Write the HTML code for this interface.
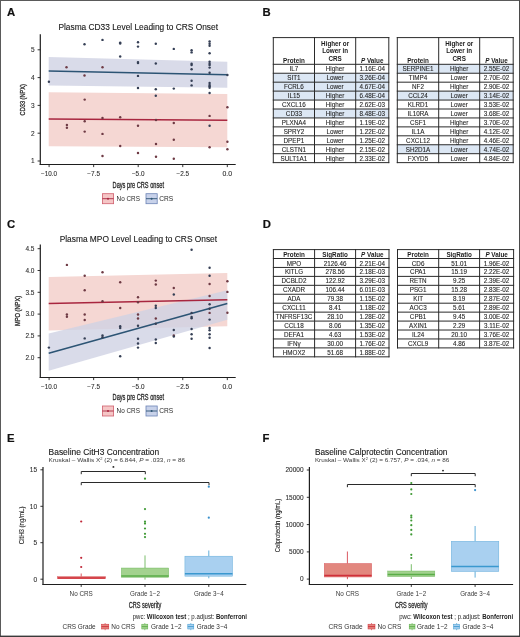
<!DOCTYPE html>
<html><head><meta charset="utf-8"><title>Figure</title><style>
html,body{margin:0;padding:0;background:#fff;}
body{width:520px;height:637px;position:relative;overflow:hidden;font-family:"Liberation Sans", sans-serif;}
.tb{position:absolute;}
.tb div{position:absolute;box-sizing:border-box;}
.hr{left:0;top:0;width:100%;}
.hc{display:flex;justify-content:center;font-weight:bold;font-size:6.3px;line-height:7.4px;text-align:center;color:#1a1a1a;padding-bottom:0.6px}
.hc span{position:relative !important;}
.rw{left:0;width:100%;}
.cl{text-align:center;font-size:6.3px;color:#333;white-space:nowrap;}
.vl{width:1px;background:#2a2a2a;}
.hl{height:1px;background:#2a2a2a;}
</style></head>
<body>
<svg width="520" height="637" viewBox="0 0 520 637" style="position:absolute;left:0;top:0;font-family:"Liberation Sans", sans-serif;will-change:transform">
<rect x="0" y="0" width="520" height="637" fill="#fff"/>







<polygon points="48.7,92.3 227.3,94 227.3,147.3 48.7,146.2" fill="#f5d7d3" fill-opacity="1"/>
<polygon points="48.7,56.9 227.3,61.8 227.3,87.7 48.7,85.4" fill="#cfd2e3" fill-opacity="0.8"/>
<line x1="48.7" y1="118.9" x2="227.3" y2="120.3" stroke="#a8263f" stroke-width="1.5" />
<line x1="48.7" y1="70.9" x2="227.3" y2="74.8" stroke="#2c5474" stroke-width="1.5" />
<circle cx="66.9" cy="124.9" r="1.22" fill="#6e3a44"/>
<circle cx="66.9" cy="127.7" r="1.22" fill="#6e3a44"/>
<circle cx="84.7" cy="99.6" r="1.22" fill="#6e3a44"/>
<circle cx="84.7" cy="121.2" r="1.22" fill="#6e3a44"/>
<circle cx="84.7" cy="131.6" r="1.22" fill="#6e3a44"/>
<circle cx="102.5" cy="118" r="1.22" fill="#6e3a44"/>
<circle cx="102.5" cy="133.9" r="1.22" fill="#6e3a44"/>
<circle cx="102.5" cy="156" r="1.22" fill="#6e3a44"/>
<circle cx="120.2" cy="117.3" r="1.22" fill="#6e3a44"/>
<circle cx="120.2" cy="146" r="1.22" fill="#6e3a44"/>
<circle cx="138" cy="125.8" r="1.22" fill="#6e3a44"/>
<circle cx="138" cy="153" r="1.22" fill="#6e3a44"/>
<circle cx="156" cy="120" r="1.22" fill="#6e3a44"/>
<circle cx="156" cy="144" r="1.22" fill="#6e3a44"/>
<circle cx="156" cy="156.8" r="1.22" fill="#6e3a44"/>
<circle cx="173.8" cy="123" r="1.22" fill="#6e3a44"/>
<circle cx="173.8" cy="139.7" r="1.22" fill="#6e3a44"/>
<circle cx="173.8" cy="158.8" r="1.22" fill="#6e3a44"/>
<circle cx="209.6" cy="115.9" r="1.22" fill="#6e3a44"/>
<circle cx="209.6" cy="147.3" r="1.22" fill="#6e3a44"/>
<circle cx="227.4" cy="107.2" r="1.22" fill="#6e3a44"/>
<circle cx="227.4" cy="141.8" r="1.22" fill="#6e3a44"/>
<circle cx="227.4" cy="149.2" r="1.22" fill="#6e3a44"/>
<circle cx="66.5" cy="67.2" r="1.22" fill="#6e3a44"/>
<circle cx="84.5" cy="75.5" r="1.22" fill="#6e3a44"/>
<circle cx="102.5" cy="67.2" r="1.22" fill="#6e3a44"/>
<circle cx="48.9" cy="81.7" r="1.22" fill="#353f55"/>
<circle cx="84.5" cy="44.3" r="1.22" fill="#353f55"/>
<circle cx="102.5" cy="39.9" r="1.22" fill="#353f55"/>
<circle cx="120.2" cy="42.6" r="1.22" fill="#353f55"/>
<circle cx="120.2" cy="43.6" r="1.22" fill="#353f55"/>
<circle cx="120.2" cy="56.5" r="1.22" fill="#353f55"/>
<circle cx="138" cy="42.2" r="1.22" fill="#353f55"/>
<circle cx="138" cy="46.6" r="1.22" fill="#353f55"/>
<circle cx="138" cy="62.1" r="1.22" fill="#353f55"/>
<circle cx="138" cy="63" r="1.22" fill="#353f55"/>
<circle cx="138" cy="75.9" r="1.22" fill="#353f55"/>
<circle cx="138" cy="88" r="1.22" fill="#353f55"/>
<circle cx="155.8" cy="43.8" r="1.22" fill="#353f55"/>
<circle cx="155.8" cy="63.5" r="1.22" fill="#353f55"/>
<circle cx="155.8" cy="89.3" r="1.22" fill="#353f55"/>
<circle cx="155.8" cy="95.8" r="1.22" fill="#353f55"/>
<circle cx="173.8" cy="48.9" r="1.22" fill="#353f55"/>
<circle cx="173.8" cy="88.6" r="1.22" fill="#353f55"/>
<circle cx="191.6" cy="50.3" r="1.22" fill="#353f55"/>
<circle cx="191.6" cy="52.4" r="1.22" fill="#353f55"/>
<circle cx="191.6" cy="63.7" r="1.22" fill="#353f55"/>
<circle cx="191.6" cy="65" r="1.22" fill="#353f55"/>
<circle cx="191.6" cy="69.2" r="1.22" fill="#353f55"/>
<circle cx="191.6" cy="80.8" r="1.22" fill="#353f55"/>
<circle cx="191.6" cy="85.4" r="1.22" fill="#353f55"/>
<circle cx="209.6" cy="41.5" r="1.22" fill="#353f55"/>
<circle cx="209.6" cy="43.8" r="1.22" fill="#353f55"/>
<circle cx="209.6" cy="45.7" r="1.22" fill="#353f55"/>
<circle cx="209.6" cy="53.3" r="1.22" fill="#353f55"/>
<circle cx="209.6" cy="61.8" r="1.22" fill="#353f55"/>
<circle cx="209.6" cy="63.7" r="1.22" fill="#353f55"/>
<circle cx="209.6" cy="65.1" r="1.22" fill="#353f55"/>
<circle cx="209.6" cy="67.6" r="1.22" fill="#353f55"/>
<circle cx="209.6" cy="72.7" r="1.22" fill="#353f55"/>
<circle cx="209.6" cy="83" r="1.22" fill="#353f55"/>
<circle cx="209.6" cy="84.9" r="1.22" fill="#353f55"/>
<circle cx="209.6" cy="86.3" r="1.22" fill="#353f55"/>
<circle cx="209.6" cy="87.7" r="1.22" fill="#353f55"/>
<circle cx="209.6" cy="93" r="1.22" fill="#353f55"/>
<circle cx="209.6" cy="125.8" r="1.22" fill="#353f55"/>
<circle cx="227.4" cy="75" r="1.22" fill="#353f55"/>
<line x1="40.3" y1="34.2" x2="40.3" y2="165.0" stroke="#1e1e1e" stroke-width="1.2" />
<line x1="39.7" y1="164.5" x2="235.7" y2="164.5" stroke="#1e1e1e" stroke-width="1.1" />
<line x1="37.6" y1="49.8" x2="40.3" y2="49.8" stroke="#1e1e1e" stroke-width="0.9" />

<line x1="37.6" y1="77.6" x2="40.3" y2="77.6" stroke="#1e1e1e" stroke-width="0.9" />

<line x1="37.6" y1="105.4" x2="40.3" y2="105.4" stroke="#1e1e1e" stroke-width="0.9" />

<line x1="37.6" y1="133.2" x2="40.3" y2="133.2" stroke="#1e1e1e" stroke-width="0.9" />

<line x1="37.6" y1="161" x2="40.3" y2="161" stroke="#1e1e1e" stroke-width="0.9" />

<line x1="49.10000000000002" y1="164.5" x2="49.10000000000002" y2="167.1" stroke="#1e1e1e" stroke-width="0.9" />

<line x1="93.65" y1="164.5" x2="93.65" y2="167.1" stroke="#1e1e1e" stroke-width="0.9" />

<line x1="138.20000000000002" y1="164.5" x2="138.20000000000002" y2="167.1" stroke="#1e1e1e" stroke-width="0.9" />

<line x1="182.75" y1="164.5" x2="182.75" y2="167.1" stroke="#1e1e1e" stroke-width="0.9" />

<line x1="227.3" y1="164.5" x2="227.3" y2="167.1" stroke="#1e1e1e" stroke-width="0.9" />



<rect x="102.4" y="193.7" width="11.2" height="10" fill="#f5c6c6" stroke="#d0606e" stroke-width="0.8"/>
<line x1="102.4" y1="198.7" x2="113.6" y2="198.7" stroke="#a8263f" stroke-width="0.9" />
<circle cx="108" cy="198.7" r="1.0" fill="#a8263f"/>
<rect x="146" y="193.7" width="11.2" height="10" fill="#c8d2ea" stroke="#6d84b6" stroke-width="0.8"/>
<line x1="146" y1="198.7" x2="157.2" y2="198.7" stroke="#2c5474" stroke-width="0.9" />
<circle cx="151.6" cy="198.7" r="1.0" fill="#2c5474"/>



<polygon points="48.7,277 227.3,273 227.3,326.2 48.7,330.5" fill="#f5d7d3" fill-opacity="1"/>
<polygon points="48.7,333.5 227.3,290.2 227.3,319.8 48.7,370.8" fill="#cfd2e3" fill-opacity="0.8"/>
<line x1="48.7" y1="303.6" x2="227.3" y2="299.7" stroke="#a8263f" stroke-width="1.5" />
<line x1="48.7" y1="353.2" x2="227.3" y2="303.5" stroke="#2c5474" stroke-width="1.5" />
<circle cx="66.9" cy="264.9" r="1.22" fill="#6e3a44"/>
<circle cx="66.9" cy="314.5" r="1.22" fill="#6e3a44"/>
<circle cx="66.9" cy="316.8" r="1.22" fill="#6e3a44"/>
<circle cx="84.7" cy="275.8" r="1.22" fill="#6e3a44"/>
<circle cx="84.7" cy="290.3" r="1.22" fill="#6e3a44"/>
<circle cx="84.7" cy="314.5" r="1.22" fill="#6e3a44"/>
<circle cx="84.7" cy="320" r="1.22" fill="#6e3a44"/>
<circle cx="102.5" cy="272.3" r="1.22" fill="#6e3a44"/>
<circle cx="102.5" cy="301.2" r="1.22" fill="#6e3a44"/>
<circle cx="120.2" cy="282.2" r="1.22" fill="#6e3a44"/>
<circle cx="120.2" cy="308" r="1.22" fill="#6e3a44"/>
<circle cx="138" cy="297.2" r="1.22" fill="#6e3a44"/>
<circle cx="138" cy="302.3" r="1.22" fill="#6e3a44"/>
<circle cx="138" cy="314.5" r="1.22" fill="#6e3a44"/>
<circle cx="138" cy="318.5" r="1.22" fill="#6e3a44"/>
<circle cx="155.8" cy="280.6" r="1.22" fill="#6e3a44"/>
<circle cx="155.8" cy="284.5" r="1.22" fill="#6e3a44"/>
<circle cx="155.8" cy="318.5" r="1.22" fill="#6e3a44"/>
<circle cx="173.8" cy="288" r="1.22" fill="#6e3a44"/>
<circle cx="173.8" cy="335.5" r="1.22" fill="#6e3a44"/>
<circle cx="209.6" cy="284" r="1.22" fill="#6e3a44"/>
<circle cx="209.6" cy="296" r="1.22" fill="#6e3a44"/>
<circle cx="209.6" cy="312.9" r="1.22" fill="#6e3a44"/>
<circle cx="227.4" cy="281.2" r="1.22" fill="#6e3a44"/>
<circle cx="227.4" cy="291.9" r="1.22" fill="#6e3a44"/>
<circle cx="227.4" cy="312.7" r="1.22" fill="#6e3a44"/>
<circle cx="191.6" cy="249.7" r="1.22" fill="#353f55"/>
<circle cx="48.9" cy="347.6" r="1.22" fill="#353f55"/>
<circle cx="84.7" cy="338.4" r="1.22" fill="#353f55"/>
<circle cx="102.5" cy="335.4" r="1.22" fill="#353f55"/>
<circle cx="102.5" cy="337.2" r="1.22" fill="#353f55"/>
<circle cx="120.2" cy="326.2" r="1.22" fill="#353f55"/>
<circle cx="120.2" cy="328" r="1.22" fill="#353f55"/>
<circle cx="120.2" cy="356.2" r="1.22" fill="#353f55"/>
<circle cx="138" cy="325.7" r="1.22" fill="#353f55"/>
<circle cx="138" cy="338.8" r="1.22" fill="#353f55"/>
<circle cx="138" cy="343.5" r="1.22" fill="#353f55"/>
<circle cx="138" cy="347.6" r="1.22" fill="#353f55"/>
<circle cx="155.8" cy="305.8" r="1.22" fill="#353f55"/>
<circle cx="155.8" cy="308" r="1.22" fill="#353f55"/>
<circle cx="155.8" cy="323.8" r="1.22" fill="#353f55"/>
<circle cx="155.8" cy="339.5" r="1.22" fill="#353f55"/>
<circle cx="155.8" cy="343" r="1.22" fill="#353f55"/>
<circle cx="173.8" cy="294.5" r="1.22" fill="#353f55"/>
<circle cx="173.8" cy="330" r="1.22" fill="#353f55"/>
<circle cx="173.8" cy="336.5" r="1.22" fill="#353f55"/>
<circle cx="191.6" cy="312.9" r="1.22" fill="#353f55"/>
<circle cx="191.6" cy="316.9" r="1.22" fill="#353f55"/>
<circle cx="191.6" cy="318.2" r="1.22" fill="#353f55"/>
<circle cx="191.6" cy="329" r="1.22" fill="#353f55"/>
<circle cx="191.6" cy="334.2" r="1.22" fill="#353f55"/>
<circle cx="191.6" cy="338.8" r="1.22" fill="#353f55"/>
<circle cx="209.6" cy="267.7" r="1.22" fill="#353f55"/>
<circle cx="209.6" cy="275.8" r="1.22" fill="#353f55"/>
<circle cx="209.6" cy="304.2" r="1.22" fill="#353f55"/>
<circle cx="209.6" cy="308.8" r="1.22" fill="#353f55"/>
<circle cx="209.6" cy="319.6" r="1.22" fill="#353f55"/>
<circle cx="209.6" cy="327.9" r="1.22" fill="#353f55"/>
<circle cx="209.6" cy="330.2" r="1.22" fill="#353f55"/>
<circle cx="209.6" cy="334.2" r="1.22" fill="#353f55"/>
<circle cx="209.6" cy="337.7" r="1.22" fill="#353f55"/>
<circle cx="209.6" cy="348" r="1.22" fill="#353f55"/>
<line x1="40.3" y1="244.5" x2="40.3" y2="378.0" stroke="#1e1e1e" stroke-width="1.2" />
<line x1="39.7" y1="377.5" x2="235.7" y2="377.5" stroke="#1e1e1e" stroke-width="1.1" />
<line x1="37.6" y1="248.7" x2="40.3" y2="248.7" stroke="#1e1e1e" stroke-width="0.9" />

<line x1="37.6" y1="270.5" x2="40.3" y2="270.5" stroke="#1e1e1e" stroke-width="0.9" />

<line x1="37.6" y1="292.3" x2="40.3" y2="292.3" stroke="#1e1e1e" stroke-width="0.9" />

<line x1="37.6" y1="314.1" x2="40.3" y2="314.1" stroke="#1e1e1e" stroke-width="0.9" />

<line x1="37.6" y1="335.9" x2="40.3" y2="335.9" stroke="#1e1e1e" stroke-width="0.9" />

<line x1="37.6" y1="357.7" x2="40.3" y2="357.7" stroke="#1e1e1e" stroke-width="0.9" />

<line x1="49.10000000000002" y1="377.5" x2="49.10000000000002" y2="380.1" stroke="#1e1e1e" stroke-width="0.9" />

<line x1="93.65" y1="377.5" x2="93.65" y2="380.1" stroke="#1e1e1e" stroke-width="0.9" />

<line x1="138.20000000000002" y1="377.5" x2="138.20000000000002" y2="380.1" stroke="#1e1e1e" stroke-width="0.9" />

<line x1="182.75" y1="377.5" x2="182.75" y2="380.1" stroke="#1e1e1e" stroke-width="0.9" />

<line x1="227.3" y1="377.5" x2="227.3" y2="380.1" stroke="#1e1e1e" stroke-width="0.9" />



<rect x="102.4" y="406.0" width="11.2" height="10" fill="#f5c6c6" stroke="#d0606e" stroke-width="0.8"/>
<line x1="102.4" y1="411.0" x2="113.6" y2="411.0" stroke="#a8263f" stroke-width="0.9" />
<circle cx="108" cy="411.0" r="1.0" fill="#a8263f"/>
<rect x="146" y="406.0" width="11.2" height="10" fill="#c8d2ea" stroke="#6d84b6" stroke-width="0.8"/>
<line x1="146" y1="411.0" x2="157.2" y2="411.0" stroke="#2c5474" stroke-width="0.9" />
<circle cx="151.6" cy="411.0" r="1.0" fill="#2c5474"/>


<rect x="273.3" y="73.24" width="115.5" height="8.94" fill="#dce7f4"/>
<rect x="273.3" y="82.17999999999999" width="115.5" height="8.94" fill="#dce7f4"/>
<rect x="273.3" y="91.12" width="115.5" height="8.94" fill="#dce7f4"/>
<rect x="273.3" y="109.0" width="115.5" height="8.94" fill="#dce7f4"/>






































<line x1="273.3" y1="37.1" x2="273.3" y2="163.14" stroke="#2a2a2a" stroke-width="1"/>
<line x1="314.5" y1="37.1" x2="314.5" y2="163.14" stroke="#2a2a2a" stroke-width="1"/>
<line x1="355.7" y1="37.1" x2="355.7" y2="163.14" stroke="#2a2a2a" stroke-width="1"/>
<line x1="388.8" y1="37.1" x2="388.8" y2="163.14" stroke="#2a2a2a" stroke-width="1"/>
<line x1="272.8" y1="37.60" x2="389.3" y2="37.60" stroke="#2a2a2a" stroke-width="1"/>
<line x1="272.8" y1="64.30" x2="389.3" y2="64.30" stroke="#2a2a2a" stroke-width="1"/>
<line x1="272.8" y1="73.24" x2="389.3" y2="73.24" stroke="#2a2a2a" stroke-width="1"/>
<line x1="272.8" y1="82.18" x2="389.3" y2="82.18" stroke="#2a2a2a" stroke-width="1"/>
<line x1="272.8" y1="91.12" x2="389.3" y2="91.12" stroke="#2a2a2a" stroke-width="1"/>
<line x1="272.8" y1="100.06" x2="389.3" y2="100.06" stroke="#2a2a2a" stroke-width="1"/>
<line x1="272.8" y1="109.00" x2="389.3" y2="109.00" stroke="#2a2a2a" stroke-width="1"/>
<line x1="272.8" y1="117.94" x2="389.3" y2="117.94" stroke="#2a2a2a" stroke-width="1"/>
<line x1="272.8" y1="126.88" x2="389.3" y2="126.88" stroke="#2a2a2a" stroke-width="1"/>
<line x1="272.8" y1="135.82" x2="389.3" y2="135.82" stroke="#2a2a2a" stroke-width="1"/>
<line x1="272.8" y1="144.76" x2="389.3" y2="144.76" stroke="#2a2a2a" stroke-width="1"/>
<line x1="272.8" y1="153.70" x2="389.3" y2="153.70" stroke="#2a2a2a" stroke-width="1"/>
<line x1="272.8" y1="162.64" x2="389.3" y2="162.64" stroke="#2a2a2a" stroke-width="1"/>
<rect x="397.3" y="64.3" width="115.90000000000003" height="8.94" fill="#dce7f4"/>
<rect x="397.3" y="91.12" width="115.90000000000003" height="8.94" fill="#dce7f4"/>
<rect x="397.3" y="144.76" width="115.90000000000003" height="8.94" fill="#dce7f4"/>






































<line x1="397.3" y1="37.1" x2="397.3" y2="163.14" stroke="#2a2a2a" stroke-width="1"/>
<line x1="438.7" y1="37.1" x2="438.7" y2="163.14" stroke="#2a2a2a" stroke-width="1"/>
<line x1="479.7" y1="37.1" x2="479.7" y2="163.14" stroke="#2a2a2a" stroke-width="1"/>
<line x1="513.2" y1="37.1" x2="513.2" y2="163.14" stroke="#2a2a2a" stroke-width="1"/>
<line x1="396.8" y1="37.60" x2="513.7" y2="37.60" stroke="#2a2a2a" stroke-width="1"/>
<line x1="396.8" y1="64.30" x2="513.7" y2="64.30" stroke="#2a2a2a" stroke-width="1"/>
<line x1="396.8" y1="73.24" x2="513.7" y2="73.24" stroke="#2a2a2a" stroke-width="1"/>
<line x1="396.8" y1="82.18" x2="513.7" y2="82.18" stroke="#2a2a2a" stroke-width="1"/>
<line x1="396.8" y1="91.12" x2="513.7" y2="91.12" stroke="#2a2a2a" stroke-width="1"/>
<line x1="396.8" y1="100.06" x2="513.7" y2="100.06" stroke="#2a2a2a" stroke-width="1"/>
<line x1="396.8" y1="109.00" x2="513.7" y2="109.00" stroke="#2a2a2a" stroke-width="1"/>
<line x1="396.8" y1="117.94" x2="513.7" y2="117.94" stroke="#2a2a2a" stroke-width="1"/>
<line x1="396.8" y1="126.88" x2="513.7" y2="126.88" stroke="#2a2a2a" stroke-width="1"/>
<line x1="396.8" y1="135.82" x2="513.7" y2="135.82" stroke="#2a2a2a" stroke-width="1"/>
<line x1="396.8" y1="144.76" x2="513.7" y2="144.76" stroke="#2a2a2a" stroke-width="1"/>
<line x1="396.8" y1="153.70" x2="513.7" y2="153.70" stroke="#2a2a2a" stroke-width="1"/>
<line x1="396.8" y1="162.64" x2="513.7" y2="162.64" stroke="#2a2a2a" stroke-width="1"/>




































<line x1="273.4" y1="249.1" x2="273.4" y2="357.34" stroke="#2a2a2a" stroke-width="1"/>
<line x1="314.6" y1="249.1" x2="314.6" y2="357.34" stroke="#2a2a2a" stroke-width="1"/>
<line x1="355.6" y1="249.1" x2="355.6" y2="357.34" stroke="#2a2a2a" stroke-width="1"/>
<line x1="389.0" y1="249.1" x2="389.0" y2="357.34" stroke="#2a2a2a" stroke-width="1"/>
<line x1="272.9" y1="249.60" x2="389.5" y2="249.60" stroke="#2a2a2a" stroke-width="1"/>
<line x1="272.9" y1="258.50" x2="389.5" y2="258.50" stroke="#2a2a2a" stroke-width="1"/>
<line x1="272.9" y1="267.44" x2="389.5" y2="267.44" stroke="#2a2a2a" stroke-width="1"/>
<line x1="272.9" y1="276.38" x2="389.5" y2="276.38" stroke="#2a2a2a" stroke-width="1"/>
<line x1="272.9" y1="285.32" x2="389.5" y2="285.32" stroke="#2a2a2a" stroke-width="1"/>
<line x1="272.9" y1="294.26" x2="389.5" y2="294.26" stroke="#2a2a2a" stroke-width="1"/>
<line x1="272.9" y1="303.20" x2="389.5" y2="303.20" stroke="#2a2a2a" stroke-width="1"/>
<line x1="272.9" y1="312.14" x2="389.5" y2="312.14" stroke="#2a2a2a" stroke-width="1"/>
<line x1="272.9" y1="321.08" x2="389.5" y2="321.08" stroke="#2a2a2a" stroke-width="1"/>
<line x1="272.9" y1="330.02" x2="389.5" y2="330.02" stroke="#2a2a2a" stroke-width="1"/>
<line x1="272.9" y1="338.96" x2="389.5" y2="338.96" stroke="#2a2a2a" stroke-width="1"/>
<line x1="272.9" y1="347.90" x2="389.5" y2="347.90" stroke="#2a2a2a" stroke-width="1"/>
<line x1="272.9" y1="356.84" x2="389.5" y2="356.84" stroke="#2a2a2a" stroke-width="1"/>

































<line x1="397.5" y1="249.1" x2="397.5" y2="348.4" stroke="#2a2a2a" stroke-width="1"/>
<line x1="438.7" y1="249.1" x2="438.7" y2="348.4" stroke="#2a2a2a" stroke-width="1"/>
<line x1="479.6" y1="249.1" x2="479.6" y2="348.4" stroke="#2a2a2a" stroke-width="1"/>
<line x1="513.6" y1="249.1" x2="513.6" y2="348.4" stroke="#2a2a2a" stroke-width="1"/>
<line x1="397.0" y1="249.60" x2="514.1" y2="249.60" stroke="#2a2a2a" stroke-width="1"/>
<line x1="397.0" y1="258.50" x2="514.1" y2="258.50" stroke="#2a2a2a" stroke-width="1"/>
<line x1="397.0" y1="267.44" x2="514.1" y2="267.44" stroke="#2a2a2a" stroke-width="1"/>
<line x1="397.0" y1="276.38" x2="514.1" y2="276.38" stroke="#2a2a2a" stroke-width="1"/>
<line x1="397.0" y1="285.32" x2="514.1" y2="285.32" stroke="#2a2a2a" stroke-width="1"/>
<line x1="397.0" y1="294.26" x2="514.1" y2="294.26" stroke="#2a2a2a" stroke-width="1"/>
<line x1="397.0" y1="303.20" x2="514.1" y2="303.20" stroke="#2a2a2a" stroke-width="1"/>
<line x1="397.0" y1="312.14" x2="514.1" y2="312.14" stroke="#2a2a2a" stroke-width="1"/>
<line x1="397.0" y1="321.08" x2="514.1" y2="321.08" stroke="#2a2a2a" stroke-width="1"/>
<line x1="397.0" y1="330.02" x2="514.1" y2="330.02" stroke="#2a2a2a" stroke-width="1"/>
<line x1="397.0" y1="338.96" x2="514.1" y2="338.96" stroke="#2a2a2a" stroke-width="1"/>
<line x1="397.0" y1="347.90" x2="514.1" y2="347.90" stroke="#2a2a2a" stroke-width="1"/>
</svg>

<svg width="520" height="637" viewBox="0 0 520 637" style="position:absolute;left:0;top:0;font-family:"Liberation Sans", sans-serif;will-change:transform">


<line x1="81.2" y1="573.5" x2="81.2" y2="576.6" stroke="#d02f3a" stroke-width="0.8"/>
<line x1="81.2" y1="578.6" x2="81.2" y2="578.6" stroke="#d02f3a" stroke-width="0.8"/>
<rect x="57.6" y="576.6" width="47.800000000000004" height="2.0" fill="#e2877e" stroke="#d02f3a" stroke-width="0.5" stroke-opacity="0.7"/>
<line x1="57.6" y1="577.9" x2="105.4" y2="577.9" stroke="#d02f3a" stroke-width="1.5"/>
<circle cx="81.2" cy="521.5" r="1.1" fill="#c02838"/>
<circle cx="81.2" cy="557.8" r="1.1" fill="#c02838"/>
<circle cx="81.2" cy="567" r="1.1" fill="#c02838"/>
<line x1="145.0" y1="555.4" x2="145.0" y2="568.0" stroke="#5aad48" stroke-width="0.8"/>
<line x1="145.0" y1="577.3" x2="145.0" y2="579.6" stroke="#5aad48" stroke-width="0.8"/>
<rect x="121.3" y="568.0" width="47.39999999999999" height="9.299999999999955" fill="#a3d28f" stroke="#5aad48" stroke-width="0.5" stroke-opacity="0.7"/>
<line x1="121.3" y1="576.1" x2="168.7" y2="576.1" stroke="#5aad48" stroke-width="1.5"/>
<circle cx="145.0" cy="478.7" r="1.1" fill="#3f9a35"/>
<circle cx="145.0" cy="509.1" r="1.1" fill="#3f9a35"/>
<circle cx="145.0" cy="521.7" r="1.1" fill="#3f9a35"/>
<circle cx="145.0" cy="523.6" r="1.1" fill="#3f9a35"/>
<circle cx="145.0" cy="528.5" r="1.1" fill="#3f9a35"/>
<circle cx="145.0" cy="533.8" r="1.1" fill="#3f9a35"/>
<circle cx="145.0" cy="537.1" r="1.1" fill="#3f9a35"/>
<line x1="208.8" y1="550.5" x2="208.8" y2="556.2" stroke="#3a98cf" stroke-width="0.8"/>
<line x1="208.8" y1="576.2" x2="208.8" y2="578.3" stroke="#3a98cf" stroke-width="0.8"/>
<rect x="184.9" y="556.2" width="47.599999999999994" height="20.0" fill="#a9d0f0" stroke="#3a98cf" stroke-width="0.5" stroke-opacity="0.7"/>
<line x1="184.9" y1="573.7" x2="232.5" y2="573.7" stroke="#3a98cf" stroke-width="1.5"/>
<circle cx="208.8" cy="486.7" r="1.1" fill="#3990cc"/>
<circle cx="208.8" cy="517.7" r="1.1" fill="#3990cc"/>
<polyline points="81.25,474.2 81.25,471.5 145.3,471.5 145.3,474.2" fill="none" stroke="#2a2a2a" stroke-width="1"/>
<polyline points="81.25,485.2 81.25,482.5 209.0,482.5 209.0,485.2" fill="none" stroke="#2a2a2a" stroke-width="1"/>
<circle cx="113.4" cy="466.9" r="0.95" fill="#222"/>
<line x1="43.0" y1="467" x2="43.0" y2="585.0" stroke="#1e1e1e" stroke-width="1.2"/>
<line x1="42.5" y1="584.5" x2="246.3" y2="584.5" stroke="#1e1e1e" stroke-width="1.1"/>
<line x1="40.4" y1="469.8" x2="43.0" y2="469.8" stroke="#1e1e1e" stroke-width="0.9"/>

<line x1="40.4" y1="506.3" x2="43.0" y2="506.3" stroke="#1e1e1e" stroke-width="0.9"/>

<line x1="40.4" y1="542.7" x2="43.0" y2="542.7" stroke="#1e1e1e" stroke-width="0.9"/>

<line x1="40.4" y1="579.2" x2="43.0" y2="579.2" stroke="#1e1e1e" stroke-width="0.9"/>

<line x1="81.2" y1="584.5" x2="81.2" y2="586.9" stroke="#1e1e1e" stroke-width="0.9"/>

<line x1="145.0" y1="584.5" x2="145.0" y2="586.9" stroke="#1e1e1e" stroke-width="0.9"/>

<line x1="208.8" y1="584.5" x2="208.8" y2="586.9" stroke="#1e1e1e" stroke-width="0.9"/>





<rect x="101.5" y="624.2" width="7.299999999999997" height="4.8" fill="#e2877e" stroke="#d02f3a" stroke-width="0.5"/>
<line x1="101.5" y1="626.6" x2="108.8" y2="626.6" stroke="#d02f3a" stroke-width="0.9"/>
<line x1="105.15" y1="623.0" x2="105.15" y2="624.2" stroke="#d02f3a" stroke-width="0.6"/>
<line x1="105.15" y1="629.0" x2="105.15" y2="630.2" stroke="#d02f3a" stroke-width="0.6"/>

<rect x="141.8" y="624.2" width="6.0" height="4.8" fill="#a3d28f" stroke="#5aad48" stroke-width="0.5"/>
<line x1="141.8" y1="626.6" x2="147.8" y2="626.6" stroke="#5aad48" stroke-width="0.9"/>
<line x1="144.8" y1="623.0" x2="144.8" y2="624.2" stroke="#5aad48" stroke-width="0.6"/>
<line x1="144.8" y1="629.0" x2="144.8" y2="630.2" stroke="#5aad48" stroke-width="0.6"/>

<rect x="187.8" y="624.2" width="6.0" height="4.8" fill="#a9d0f0" stroke="#3a98cf" stroke-width="0.5"/>
<line x1="187.8" y1="626.6" x2="193.8" y2="626.6" stroke="#3a98cf" stroke-width="0.9"/>
<line x1="190.8" y1="623.0" x2="190.8" y2="624.2" stroke="#3a98cf" stroke-width="0.6"/>
<line x1="190.8" y1="629.0" x2="190.8" y2="630.2" stroke="#3a98cf" stroke-width="0.6"/>



<line x1="347.4" y1="551.5" x2="347.4" y2="563.5" stroke="#d02f3a" stroke-width="0.8"/>
<line x1="347.4" y1="577.0" x2="347.4" y2="579.2" stroke="#d02f3a" stroke-width="0.8"/>
<rect x="324.3" y="563.5" width="47.30000000000001" height="13.5" fill="#e2877e" stroke="#d02f3a" stroke-width="0.5" stroke-opacity="0.7"/>
<line x1="324.3" y1="575.5" x2="371.6" y2="575.5" stroke="#d02f3a" stroke-width="1.5"/>
<line x1="411.3" y1="564.2" x2="411.3" y2="571.0" stroke="#5aad48" stroke-width="0.8"/>
<line x1="411.3" y1="576.6" x2="411.3" y2="579.0" stroke="#5aad48" stroke-width="0.8"/>
<rect x="387.7" y="571.0" width="47.10000000000002" height="5.600000000000023" fill="#a3d28f" stroke="#5aad48" stroke-width="0.5" stroke-opacity="0.7"/>
<line x1="387.7" y1="574.5" x2="434.8" y2="574.5" stroke="#5aad48" stroke-width="1.5"/>
<circle cx="411.3" cy="483" r="1.1" fill="#3f9a35"/>
<circle cx="411.3" cy="489.4" r="1.1" fill="#3f9a35"/>
<circle cx="411.3" cy="494.0" r="1.1" fill="#3f9a35"/>
<circle cx="411.3" cy="515.5" r="1.1" fill="#3f9a35"/>
<circle cx="411.3" cy="517.4" r="1.1" fill="#3f9a35"/>
<circle cx="411.3" cy="520.5" r="1.1" fill="#3f9a35"/>
<circle cx="411.3" cy="525.2" r="1.1" fill="#3f9a35"/>
<circle cx="411.3" cy="529.9" r="1.1" fill="#3f9a35"/>
<circle cx="411.3" cy="534.4" r="1.1" fill="#3f9a35"/>
<circle cx="411.3" cy="554.8" r="1.1" fill="#3f9a35"/>
<circle cx="411.3" cy="558.0" r="1.1" fill="#3f9a35"/>
<line x1="475.1" y1="526.0" x2="475.1" y2="541.3" stroke="#3a98cf" stroke-width="0.8"/>
<line x1="475.1" y1="571.5" x2="475.1" y2="577.6" stroke="#3a98cf" stroke-width="0.8"/>
<rect x="451.3" y="541.3" width="47.5" height="30.200000000000045" fill="#a9d0f0" stroke="#3a98cf" stroke-width="0.5" stroke-opacity="0.7"/>
<line x1="451.3" y1="566.4" x2="498.8" y2="566.4" stroke="#3a98cf" stroke-width="1.5"/>
<circle cx="475.1" cy="490.1" r="1.1" fill="#3990cc"/>
<polyline points="411.3,476.2 411.3,473.5 475.2,473.5 475.2,476.2" fill="none" stroke="#2a2a2a" stroke-width="1"/>
<polyline points="347.4,487.2 347.4,484.5 475.2,484.5 475.2,487.2" fill="none" stroke="#2a2a2a" stroke-width="1"/>
<circle cx="443.0" cy="470.6" r="0.95" fill="#222"/>
<line x1="309.4" y1="467" x2="309.4" y2="585.0" stroke="#1e1e1e" stroke-width="1.2"/>
<line x1="308.9" y1="584.5" x2="513.1" y2="584.5" stroke="#1e1e1e" stroke-width="1.1"/>
<line x1="306.79999999999995" y1="470.0" x2="309.4" y2="470.0" stroke="#1e1e1e" stroke-width="0.9"/>

<line x1="306.79999999999995" y1="497.3" x2="309.4" y2="497.3" stroke="#1e1e1e" stroke-width="0.9"/>

<line x1="306.79999999999995" y1="524.6" x2="309.4" y2="524.6" stroke="#1e1e1e" stroke-width="0.9"/>

<line x1="306.79999999999995" y1="551.9" x2="309.4" y2="551.9" stroke="#1e1e1e" stroke-width="0.9"/>

<line x1="306.79999999999995" y1="579.1" x2="309.4" y2="579.1" stroke="#1e1e1e" stroke-width="0.9"/>

<line x1="347.4" y1="584.5" x2="347.4" y2="586.9" stroke="#1e1e1e" stroke-width="0.9"/>

<line x1="411.3" y1="584.5" x2="411.3" y2="586.9" stroke="#1e1e1e" stroke-width="0.9"/>

<line x1="475.1" y1="584.5" x2="475.1" y2="586.9" stroke="#1e1e1e" stroke-width="0.9"/>





<rect x="368.0" y="624.2" width="7.0" height="4.8" fill="#e2877e" stroke="#d02f3a" stroke-width="0.5"/>
<line x1="368.0" y1="626.6" x2="375.0" y2="626.6" stroke="#d02f3a" stroke-width="0.9"/>
<line x1="371.5" y1="623.0" x2="371.5" y2="624.2" stroke="#d02f3a" stroke-width="0.6"/>
<line x1="371.5" y1="629.0" x2="371.5" y2="630.2" stroke="#d02f3a" stroke-width="0.6"/>

<rect x="409.2" y="624.2" width="5.800000000000011" height="4.8" fill="#a3d28f" stroke="#5aad48" stroke-width="0.5"/>
<line x1="409.2" y1="626.6" x2="415.0" y2="626.6" stroke="#5aad48" stroke-width="0.9"/>
<line x1="412.1" y1="623.0" x2="412.1" y2="624.2" stroke="#5aad48" stroke-width="0.6"/>
<line x1="412.1" y1="629.0" x2="412.1" y2="630.2" stroke="#5aad48" stroke-width="0.6"/>

<rect x="453.6" y="624.2" width="6.0" height="4.8" fill="#a9d0f0" stroke="#3a98cf" stroke-width="0.5"/>
<line x1="453.6" y1="626.6" x2="459.6" y2="626.6" stroke="#3a98cf" stroke-width="0.9"/>
<line x1="456.6" y1="623.0" x2="456.6" y2="624.2" stroke="#3a98cf" stroke-width="0.6"/>
<line x1="456.6" y1="629.0" x2="456.6" y2="630.2" stroke="#3a98cf" stroke-width="0.6"/>

<rect x="0" y="0" width="520" height="1" fill="#5a5a5a"/>
<rect x="0" y="0" width="1" height="637" fill="#5a5a5a"/>
<rect x="519" y="0" width="1" height="637" fill="#4a4a4a"/>
<rect x="0" y="635.6" width="520" height="1.4" fill="#3a3a3a"/>
</svg>
<div style="position:absolute;left:0;top:0;width:520px;height:637px;filter:grayscale(1)"><svg width="520" height="637" viewBox="0 0 520 637" style="position:absolute;left:0;top:0;font-family:"Liberation Sans", sans-serif"><text x="6.9" y="16.2" font-size="11.3" text-anchor="start" font-weight="bold" fill="#111" stroke="#111" stroke-width="0.2" style="">A</text>
<text x="262.6" y="16.2" font-size="11.3" text-anchor="start" font-weight="bold" fill="#111" stroke="#111" stroke-width="0.2" style="">B</text>
<text x="6.9" y="228.3" font-size="11.3" text-anchor="start" font-weight="bold" fill="#111" stroke="#111" stroke-width="0.2" style="">C</text>
<text x="262.8" y="228.3" font-size="11.3" text-anchor="start" font-weight="bold" fill="#111" stroke="#111" stroke-width="0.2" style="">D</text>
<text x="7" y="441.8" font-size="11.3" text-anchor="start" font-weight="bold" fill="#111" stroke="#111" stroke-width="0.2" style="">E</text>
<text x="262.5" y="441.8" font-size="11.3" text-anchor="start" font-weight="bold" fill="#111" stroke="#111" stroke-width="0.2" style="">F</text>
<text x="58.4" y="29.7" font-size="8.25" text-anchor="start" font-weight="normal" fill="#1a1a1a" textLength="159.6" lengthAdjust="spacingAndGlyphs" stroke="#1a1a1a" stroke-width="0.12" style="">Plasma CD33 Level Leading to CRS Onset</text>
<text x="34.5" y="52.099999999999994" font-size="6.5" text-anchor="end" font-weight="normal" fill="#2e2e2e" stroke="#2e2e2e" stroke-width="0.1" style="">5</text>
<text x="34.5" y="79.89999999999999" font-size="6.5" text-anchor="end" font-weight="normal" fill="#2e2e2e" stroke="#2e2e2e" stroke-width="0.1" style="">4</text>
<text x="34.5" y="107.7" font-size="6.5" text-anchor="end" font-weight="normal" fill="#2e2e2e" stroke="#2e2e2e" stroke-width="0.1" style="">3</text>
<text x="34.5" y="135.5" font-size="6.5" text-anchor="end" font-weight="normal" fill="#2e2e2e" stroke="#2e2e2e" stroke-width="0.1" style="">2</text>
<text x="34.5" y="163.3" font-size="6.5" text-anchor="end" font-weight="normal" fill="#2e2e2e" stroke="#2e2e2e" stroke-width="0.1" style="">1</text>
<text x="49.10000000000002" y="176.4" font-size="6.4" text-anchor="middle" font-weight="normal" fill="#2e2e2e" textLength="16" lengthAdjust="spacingAndGlyphs" stroke="#2e2e2e" stroke-width="0.1" style="">−10.0</text>
<text x="93.65" y="176.4" font-size="6.4" text-anchor="middle" font-weight="normal" fill="#2e2e2e" textLength="12.6" lengthAdjust="spacingAndGlyphs" stroke="#2e2e2e" stroke-width="0.1" style="">−7.5</text>
<text x="138.20000000000002" y="176.4" font-size="6.4" text-anchor="middle" font-weight="normal" fill="#2e2e2e" textLength="12.6" lengthAdjust="spacingAndGlyphs" stroke="#2e2e2e" stroke-width="0.1" style="">−5.0</text>
<text x="182.75" y="176.4" font-size="6.4" text-anchor="middle" font-weight="normal" fill="#2e2e2e" textLength="12.6" lengthAdjust="spacingAndGlyphs" stroke="#2e2e2e" stroke-width="0.1" style="">−2.5</text>
<text x="227.3" y="176.4" font-size="6.4" text-anchor="middle" font-weight="normal" fill="#2e2e2e" textLength="9.6" lengthAdjust="spacingAndGlyphs" stroke="#2e2e2e" stroke-width="0.1" style="">0.0</text>
<text transform="translate(24.8,99.7) rotate(-90)" x="0" y="0" font-size="7.4" text-anchor="middle" fill="#2a2a2a" stroke="#2a2a2a" stroke-width="0.3" textLength="31.4" lengthAdjust="spacingAndGlyphs">CD33 (NPX)</text>
<text x="138.3" y="187.9" font-size="8.3" text-anchor="middle" font-weight="normal" fill="#2a2a2a" textLength="51.4" lengthAdjust="spacingAndGlyphs" stroke="#2a2a2a" stroke-width="0.3" style="">Days pre CRS onset</text>
<text x="116.6" y="201.0" font-size="7.1" text-anchor="start" font-weight="normal" fill="#2a2a2a" textLength="23.4" lengthAdjust="spacingAndGlyphs"  style="">No CRS</text>
<text x="159.3" y="201.0" font-size="7.1" text-anchor="start" font-weight="normal" fill="#2a2a2a" textLength="14.0" lengthAdjust="spacingAndGlyphs"  style="">CRS</text>
<text x="59.7" y="242.0" font-size="8.25" text-anchor="start" font-weight="normal" fill="#1a1a1a" textLength="157.4" lengthAdjust="spacingAndGlyphs" stroke="#1a1a1a" stroke-width="0.12" style="">Plasma MPO Level Leading to CRS Onset</text>
<text x="34.5" y="251.0" font-size="6.5" text-anchor="end" font-weight="normal" fill="#2e2e2e" stroke="#2e2e2e" stroke-width="0.1" style="">4.5</text>
<text x="34.5" y="272.8" font-size="6.5" text-anchor="end" font-weight="normal" fill="#2e2e2e" stroke="#2e2e2e" stroke-width="0.1" style="">4.0</text>
<text x="34.5" y="294.6" font-size="6.5" text-anchor="end" font-weight="normal" fill="#2e2e2e" stroke="#2e2e2e" stroke-width="0.1" style="">3.5</text>
<text x="34.5" y="316.40000000000003" font-size="6.5" text-anchor="end" font-weight="normal" fill="#2e2e2e" stroke="#2e2e2e" stroke-width="0.1" style="">3.0</text>
<text x="34.5" y="338.2" font-size="6.5" text-anchor="end" font-weight="normal" fill="#2e2e2e" stroke="#2e2e2e" stroke-width="0.1" style="">2.5</text>
<text x="34.5" y="360.0" font-size="6.5" text-anchor="end" font-weight="normal" fill="#2e2e2e" stroke="#2e2e2e" stroke-width="0.1" style="">2.0</text>
<text x="49.10000000000002" y="388.70000000000005" font-size="6.4" text-anchor="middle" font-weight="normal" fill="#2e2e2e" textLength="16" lengthAdjust="spacingAndGlyphs" stroke="#2e2e2e" stroke-width="0.1" style="">−10.0</text>
<text x="93.65" y="388.70000000000005" font-size="6.4" text-anchor="middle" font-weight="normal" fill="#2e2e2e" textLength="12.6" lengthAdjust="spacingAndGlyphs" stroke="#2e2e2e" stroke-width="0.1" style="">−7.5</text>
<text x="138.20000000000002" y="388.70000000000005" font-size="6.4" text-anchor="middle" font-weight="normal" fill="#2e2e2e" textLength="12.6" lengthAdjust="spacingAndGlyphs" stroke="#2e2e2e" stroke-width="0.1" style="">−5.0</text>
<text x="182.75" y="388.70000000000005" font-size="6.4" text-anchor="middle" font-weight="normal" fill="#2e2e2e" textLength="12.6" lengthAdjust="spacingAndGlyphs" stroke="#2e2e2e" stroke-width="0.1" style="">−2.5</text>
<text x="227.3" y="388.70000000000005" font-size="6.4" text-anchor="middle" font-weight="normal" fill="#2e2e2e" textLength="9.6" lengthAdjust="spacingAndGlyphs" stroke="#2e2e2e" stroke-width="0.1" style="">0.0</text>
<text transform="translate(19.8,311) rotate(-90)" x="0" y="0" font-size="7.4" text-anchor="middle" fill="#2a2a2a" stroke="#2a2a2a" stroke-width="0.3" textLength="30.2" lengthAdjust="spacingAndGlyphs">MPO (NPX)</text>
<text x="138.3" y="400.20000000000005" font-size="8.3" text-anchor="middle" font-weight="normal" fill="#2a2a2a" textLength="51.4" lengthAdjust="spacingAndGlyphs" stroke="#2a2a2a" stroke-width="0.3" style="">Days pre CRS onset</text>
<text x="116.6" y="413.3" font-size="7.1" text-anchor="start" font-weight="normal" fill="#2a2a2a" textLength="23.4" lengthAdjust="spacingAndGlyphs"  style="">No CRS</text>
<text x="159.3" y="413.3" font-size="7.1" text-anchor="start" font-weight="normal" fill="#2a2a2a" textLength="14.0" lengthAdjust="spacingAndGlyphs"  style="">CRS</text>
<text x="293.9" y="62.5" font-size="6.3" font-weight="bold" text-anchor="middle" fill="#1a1a1a">Protein</text>
<text x="335.1" y="45.8" font-size="6.3" font-weight="bold" text-anchor="middle" fill="#1a1a1a">Higher or</text>
<text x="335.1" y="53.4" font-size="6.3" font-weight="bold" text-anchor="middle" fill="#1a1a1a">Lower in</text>
<text x="335.1" y="61.0" font-size="6.3" font-weight="bold" text-anchor="middle" fill="#1a1a1a">CRS</text>
<text x="372.25" y="62.5" font-size="6.3" font-weight="bold" text-anchor="middle" fill="#1a1a1a"><tspan font-style="italic">P</tspan> Value</text>
<text x="293.9" y="71.30" font-size="6.3" text-anchor="middle" fill="#262626" stroke="#262626" stroke-width="0.1">IL7</text>
<text x="335.1" y="71.30" font-size="6.3" text-anchor="middle" fill="#262626" stroke="#262626" stroke-width="0.1">Higher</text>
<text x="372.25" y="71.30" font-size="6.3" text-anchor="middle" fill="#262626" stroke="#262626" stroke-width="0.1">1.16E-04</text>
<text x="293.9" y="80.24" font-size="6.3" text-anchor="middle" fill="#262626" stroke="#262626" stroke-width="0.1">SIT1</text>
<text x="335.1" y="80.24" font-size="6.3" text-anchor="middle" fill="#262626" stroke="#262626" stroke-width="0.1">Lower</text>
<text x="372.25" y="80.24" font-size="6.3" text-anchor="middle" fill="#262626" stroke="#262626" stroke-width="0.1">3.26E-04</text>
<text x="293.9" y="89.18" font-size="6.3" text-anchor="middle" fill="#262626" stroke="#262626" stroke-width="0.1">FCRL6</text>
<text x="335.1" y="89.18" font-size="6.3" text-anchor="middle" fill="#262626" stroke="#262626" stroke-width="0.1">Lower</text>
<text x="372.25" y="89.18" font-size="6.3" text-anchor="middle" fill="#262626" stroke="#262626" stroke-width="0.1">4.67E-04</text>
<text x="293.9" y="98.12" font-size="6.3" text-anchor="middle" fill="#262626" stroke="#262626" stroke-width="0.1">IL15</text>
<text x="335.1" y="98.12" font-size="6.3" text-anchor="middle" fill="#262626" stroke="#262626" stroke-width="0.1">Higher</text>
<text x="372.25" y="98.12" font-size="6.3" text-anchor="middle" fill="#262626" stroke="#262626" stroke-width="0.1">6.48E-04</text>
<text x="293.9" y="107.06" font-size="6.3" text-anchor="middle" fill="#262626" stroke="#262626" stroke-width="0.1">CXCL16</text>
<text x="335.1" y="107.06" font-size="6.3" text-anchor="middle" fill="#262626" stroke="#262626" stroke-width="0.1">Higher</text>
<text x="372.25" y="107.06" font-size="6.3" text-anchor="middle" fill="#262626" stroke="#262626" stroke-width="0.1">2.62E-03</text>
<text x="293.9" y="116.00" font-size="6.3" text-anchor="middle" fill="#262626" stroke="#262626" stroke-width="0.1">CD33</text>
<text x="335.1" y="116.00" font-size="6.3" text-anchor="middle" fill="#262626" stroke="#262626" stroke-width="0.1">Higher</text>
<text x="372.25" y="116.00" font-size="6.3" text-anchor="middle" fill="#262626" stroke="#262626" stroke-width="0.1">8.48E-03</text>
<text x="293.9" y="124.94" font-size="6.3" text-anchor="middle" fill="#262626" stroke="#262626" stroke-width="0.1">PLXNA4</text>
<text x="335.1" y="124.94" font-size="6.3" text-anchor="middle" fill="#262626" stroke="#262626" stroke-width="0.1">Higher</text>
<text x="372.25" y="124.94" font-size="6.3" text-anchor="middle" fill="#262626" stroke="#262626" stroke-width="0.1">1.19E-02</text>
<text x="293.9" y="133.88" font-size="6.3" text-anchor="middle" fill="#262626" stroke="#262626" stroke-width="0.1">SPRY2</text>
<text x="335.1" y="133.88" font-size="6.3" text-anchor="middle" fill="#262626" stroke="#262626" stroke-width="0.1">Lower</text>
<text x="372.25" y="133.88" font-size="6.3" text-anchor="middle" fill="#262626" stroke="#262626" stroke-width="0.1">1.22E-02</text>
<text x="293.9" y="142.82" font-size="6.3" text-anchor="middle" fill="#262626" stroke="#262626" stroke-width="0.1">DPEP1</text>
<text x="335.1" y="142.82" font-size="6.3" text-anchor="middle" fill="#262626" stroke="#262626" stroke-width="0.1">Lower</text>
<text x="372.25" y="142.82" font-size="6.3" text-anchor="middle" fill="#262626" stroke="#262626" stroke-width="0.1">1.25E-02</text>
<text x="293.9" y="151.76" font-size="6.3" text-anchor="middle" fill="#262626" stroke="#262626" stroke-width="0.1">CLSTN1</text>
<text x="335.1" y="151.76" font-size="6.3" text-anchor="middle" fill="#262626" stroke="#262626" stroke-width="0.1">Higher</text>
<text x="372.25" y="151.76" font-size="6.3" text-anchor="middle" fill="#262626" stroke="#262626" stroke-width="0.1">2.15E-02</text>
<text x="293.9" y="160.70" font-size="6.3" text-anchor="middle" fill="#262626" stroke="#262626" stroke-width="0.1">SULT1A1</text>
<text x="335.1" y="160.70" font-size="6.3" text-anchor="middle" fill="#262626" stroke="#262626" stroke-width="0.1">Higher</text>
<text x="372.25" y="160.70" font-size="6.3" text-anchor="middle" fill="#262626" stroke="#262626" stroke-width="0.1">2.33E-02</text>
<text x="418.0" y="62.5" font-size="6.3" font-weight="bold" text-anchor="middle" fill="#1a1a1a">Protein</text>
<text x="459.2" y="45.8" font-size="6.3" font-weight="bold" text-anchor="middle" fill="#1a1a1a">Higher or</text>
<text x="459.2" y="53.4" font-size="6.3" font-weight="bold" text-anchor="middle" fill="#1a1a1a">Lower in</text>
<text x="459.2" y="61.0" font-size="6.3" font-weight="bold" text-anchor="middle" fill="#1a1a1a">CRS</text>
<text x="496.45000000000005" y="62.5" font-size="6.3" font-weight="bold" text-anchor="middle" fill="#1a1a1a"><tspan font-style="italic">P</tspan> Value</text>
<text x="418.0" y="71.30" font-size="6.3" text-anchor="middle" fill="#262626" stroke="#262626" stroke-width="0.1">SERPINE1</text>
<text x="459.2" y="71.30" font-size="6.3" text-anchor="middle" fill="#262626" stroke="#262626" stroke-width="0.1">Higher</text>
<text x="496.45000000000005" y="71.30" font-size="6.3" text-anchor="middle" fill="#262626" stroke="#262626" stroke-width="0.1">2.55E-02</text>
<text x="418.0" y="80.24" font-size="6.3" text-anchor="middle" fill="#262626" stroke="#262626" stroke-width="0.1">TIMP4</text>
<text x="459.2" y="80.24" font-size="6.3" text-anchor="middle" fill="#262626" stroke="#262626" stroke-width="0.1">Lower</text>
<text x="496.45000000000005" y="80.24" font-size="6.3" text-anchor="middle" fill="#262626" stroke="#262626" stroke-width="0.1">2.70E-02</text>
<text x="418.0" y="89.18" font-size="6.3" text-anchor="middle" fill="#262626" stroke="#262626" stroke-width="0.1">NF2</text>
<text x="459.2" y="89.18" font-size="6.3" text-anchor="middle" fill="#262626" stroke="#262626" stroke-width="0.1">Higher</text>
<text x="496.45000000000005" y="89.18" font-size="6.3" text-anchor="middle" fill="#262626" stroke="#262626" stroke-width="0.1">2.90E-02</text>
<text x="418.0" y="98.12" font-size="6.3" text-anchor="middle" fill="#262626" stroke="#262626" stroke-width="0.1">CCL24</text>
<text x="459.2" y="98.12" font-size="6.3" text-anchor="middle" fill="#262626" stroke="#262626" stroke-width="0.1">Lower</text>
<text x="496.45000000000005" y="98.12" font-size="6.3" text-anchor="middle" fill="#262626" stroke="#262626" stroke-width="0.1">3.14E-02</text>
<text x="418.0" y="107.06" font-size="6.3" text-anchor="middle" fill="#262626" stroke="#262626" stroke-width="0.1">KLRD1</text>
<text x="459.2" y="107.06" font-size="6.3" text-anchor="middle" fill="#262626" stroke="#262626" stroke-width="0.1">Lower</text>
<text x="496.45000000000005" y="107.06" font-size="6.3" text-anchor="middle" fill="#262626" stroke="#262626" stroke-width="0.1">3.53E-02</text>
<text x="418.0" y="116.00" font-size="6.3" text-anchor="middle" fill="#262626" stroke="#262626" stroke-width="0.1">IL10RA</text>
<text x="459.2" y="116.00" font-size="6.3" text-anchor="middle" fill="#262626" stroke="#262626" stroke-width="0.1">Lower</text>
<text x="496.45000000000005" y="116.00" font-size="6.3" text-anchor="middle" fill="#262626" stroke="#262626" stroke-width="0.1">3.68E-02</text>
<text x="418.0" y="124.94" font-size="6.3" text-anchor="middle" fill="#262626" stroke="#262626" stroke-width="0.1">CSF1</text>
<text x="459.2" y="124.94" font-size="6.3" text-anchor="middle" fill="#262626" stroke="#262626" stroke-width="0.1">Higher</text>
<text x="496.45000000000005" y="124.94" font-size="6.3" text-anchor="middle" fill="#262626" stroke="#262626" stroke-width="0.1">3.70E-02</text>
<text x="418.0" y="133.88" font-size="6.3" text-anchor="middle" fill="#262626" stroke="#262626" stroke-width="0.1">IL1A</text>
<text x="459.2" y="133.88" font-size="6.3" text-anchor="middle" fill="#262626" stroke="#262626" stroke-width="0.1">Higher</text>
<text x="496.45000000000005" y="133.88" font-size="6.3" text-anchor="middle" fill="#262626" stroke="#262626" stroke-width="0.1">4.12E-02</text>
<text x="418.0" y="142.82" font-size="6.3" text-anchor="middle" fill="#262626" stroke="#262626" stroke-width="0.1">CXCL12</text>
<text x="459.2" y="142.82" font-size="6.3" text-anchor="middle" fill="#262626" stroke="#262626" stroke-width="0.1">Higher</text>
<text x="496.45000000000005" y="142.82" font-size="6.3" text-anchor="middle" fill="#262626" stroke="#262626" stroke-width="0.1">4.46E-02</text>
<text x="418.0" y="151.76" font-size="6.3" text-anchor="middle" fill="#262626" stroke="#262626" stroke-width="0.1">SH2D1A</text>
<text x="459.2" y="151.76" font-size="6.3" text-anchor="middle" fill="#262626" stroke="#262626" stroke-width="0.1">Lower</text>
<text x="496.45000000000005" y="151.76" font-size="6.3" text-anchor="middle" fill="#262626" stroke="#262626" stroke-width="0.1">4.74E-02</text>
<text x="418.0" y="160.70" font-size="6.3" text-anchor="middle" fill="#262626" stroke="#262626" stroke-width="0.1">FXYD5</text>
<text x="459.2" y="160.70" font-size="6.3" text-anchor="middle" fill="#262626" stroke="#262626" stroke-width="0.1">Lower</text>
<text x="496.45000000000005" y="160.70" font-size="6.3" text-anchor="middle" fill="#262626" stroke="#262626" stroke-width="0.1">4.84E-02</text>
<text x="294.0" y="256.9" font-size="6.3" font-weight="bold" text-anchor="middle" fill="#1a1a1a">Protein</text>
<text x="335.1" y="256.9" font-size="6.3" font-weight="bold" text-anchor="middle" fill="#1a1a1a">SigRatio</text>
<text x="372.3" y="256.9" font-size="6.3" font-weight="bold" text-anchor="middle" fill="#1a1a1a"><tspan font-style="italic">P</tspan> Value</text>
<text x="294.0" y="265.50" font-size="6.3" text-anchor="middle" fill="#262626" stroke="#262626" stroke-width="0.1">MPO</text>
<text x="335.1" y="265.50" font-size="6.3" text-anchor="middle" fill="#262626" stroke="#262626" stroke-width="0.1">2126.46</text>
<text x="372.3" y="265.50" font-size="6.3" text-anchor="middle" fill="#262626" stroke="#262626" stroke-width="0.1">2.21E-04</text>
<text x="294.0" y="274.44" font-size="6.3" text-anchor="middle" fill="#262626" stroke="#262626" stroke-width="0.1">KITLG</text>
<text x="335.1" y="274.44" font-size="6.3" text-anchor="middle" fill="#262626" stroke="#262626" stroke-width="0.1">278.56</text>
<text x="372.3" y="274.44" font-size="6.3" text-anchor="middle" fill="#262626" stroke="#262626" stroke-width="0.1">2.18E-03</text>
<text x="294.0" y="283.38" font-size="6.3" text-anchor="middle" fill="#262626" stroke="#262626" stroke-width="0.1">DCBLD2</text>
<text x="335.1" y="283.38" font-size="6.3" text-anchor="middle" fill="#262626" stroke="#262626" stroke-width="0.1">122.92</text>
<text x="372.3" y="283.38" font-size="6.3" text-anchor="middle" fill="#262626" stroke="#262626" stroke-width="0.1">3.29E-03</text>
<text x="294.0" y="292.32" font-size="6.3" text-anchor="middle" fill="#262626" stroke="#262626" stroke-width="0.1">CXADR</text>
<text x="335.1" y="292.32" font-size="6.3" text-anchor="middle" fill="#262626" stroke="#262626" stroke-width="0.1">106.44</text>
<text x="372.3" y="292.32" font-size="6.3" text-anchor="middle" fill="#262626" stroke="#262626" stroke-width="0.1">6.01E-03</text>
<text x="294.0" y="301.26" font-size="6.3" text-anchor="middle" fill="#262626" stroke="#262626" stroke-width="0.1">ADA</text>
<text x="335.1" y="301.26" font-size="6.3" text-anchor="middle" fill="#262626" stroke="#262626" stroke-width="0.1">79.38</text>
<text x="372.3" y="301.26" font-size="6.3" text-anchor="middle" fill="#262626" stroke="#262626" stroke-width="0.1">1.15E-02</text>
<text x="294.0" y="310.20" font-size="6.3" text-anchor="middle" fill="#262626" stroke="#262626" stroke-width="0.1">CXCL11</text>
<text x="335.1" y="310.20" font-size="6.3" text-anchor="middle" fill="#262626" stroke="#262626" stroke-width="0.1">8.41</text>
<text x="372.3" y="310.20" font-size="6.3" text-anchor="middle" fill="#262626" stroke="#262626" stroke-width="0.1">1.18E-02</text>
<text x="294.0" y="319.14" font-size="6.3" text-anchor="middle" fill="#262626" stroke="#262626" stroke-width="0.1">TNFRSF13C</text>
<text x="335.1" y="319.14" font-size="6.3" text-anchor="middle" fill="#262626" stroke="#262626" stroke-width="0.1">28.10</text>
<text x="372.3" y="319.14" font-size="6.3" text-anchor="middle" fill="#262626" stroke="#262626" stroke-width="0.1">1.28E-02</text>
<text x="294.0" y="328.08" font-size="6.3" text-anchor="middle" fill="#262626" stroke="#262626" stroke-width="0.1">CCL18</text>
<text x="335.1" y="328.08" font-size="6.3" text-anchor="middle" fill="#262626" stroke="#262626" stroke-width="0.1">8.06</text>
<text x="372.3" y="328.08" font-size="6.3" text-anchor="middle" fill="#262626" stroke="#262626" stroke-width="0.1">1.35E-02</text>
<text x="294.0" y="337.02" font-size="6.3" text-anchor="middle" fill="#262626" stroke="#262626" stroke-width="0.1">DEFA1</text>
<text x="335.1" y="337.02" font-size="6.3" text-anchor="middle" fill="#262626" stroke="#262626" stroke-width="0.1">4.63</text>
<text x="372.3" y="337.02" font-size="6.3" text-anchor="middle" fill="#262626" stroke="#262626" stroke-width="0.1">1.53E-02</text>
<text x="294.0" y="345.96" font-size="6.3" text-anchor="middle" fill="#262626" stroke="#262626" stroke-width="0.1">IFN&#947;</text>
<text x="335.1" y="345.96" font-size="6.3" text-anchor="middle" fill="#262626" stroke="#262626" stroke-width="0.1">30.00</text>
<text x="372.3" y="345.96" font-size="6.3" text-anchor="middle" fill="#262626" stroke="#262626" stroke-width="0.1">1.76E-02</text>
<text x="294.0" y="354.90" font-size="6.3" text-anchor="middle" fill="#262626" stroke="#262626" stroke-width="0.1">HMOX2</text>
<text x="335.1" y="354.90" font-size="6.3" text-anchor="middle" fill="#262626" stroke="#262626" stroke-width="0.1">51.68</text>
<text x="372.3" y="354.90" font-size="6.3" text-anchor="middle" fill="#262626" stroke="#262626" stroke-width="0.1">1.88E-02</text>
<text x="418.1" y="256.9" font-size="6.3" font-weight="bold" text-anchor="middle" fill="#1a1a1a">Protein</text>
<text x="459.15" y="256.9" font-size="6.3" font-weight="bold" text-anchor="middle" fill="#1a1a1a">SigRatio</text>
<text x="496.6" y="256.9" font-size="6.3" font-weight="bold" text-anchor="middle" fill="#1a1a1a"><tspan font-style="italic">P</tspan> Value</text>
<text x="418.1" y="265.50" font-size="6.3" text-anchor="middle" fill="#262626" stroke="#262626" stroke-width="0.1">CD6</text>
<text x="459.15" y="265.50" font-size="6.3" text-anchor="middle" fill="#262626" stroke="#262626" stroke-width="0.1">51.01</text>
<text x="496.6" y="265.50" font-size="6.3" text-anchor="middle" fill="#262626" stroke="#262626" stroke-width="0.1">1.96E-02</text>
<text x="418.1" y="274.44" font-size="6.3" text-anchor="middle" fill="#262626" stroke="#262626" stroke-width="0.1">CPA1</text>
<text x="459.15" y="274.44" font-size="6.3" text-anchor="middle" fill="#262626" stroke="#262626" stroke-width="0.1">15.19</text>
<text x="496.6" y="274.44" font-size="6.3" text-anchor="middle" fill="#262626" stroke="#262626" stroke-width="0.1">2.22E-02</text>
<text x="418.1" y="283.38" font-size="6.3" text-anchor="middle" fill="#262626" stroke="#262626" stroke-width="0.1">RETN</text>
<text x="459.15" y="283.38" font-size="6.3" text-anchor="middle" fill="#262626" stroke="#262626" stroke-width="0.1">9.25</text>
<text x="496.6" y="283.38" font-size="6.3" text-anchor="middle" fill="#262626" stroke="#262626" stroke-width="0.1">2.39E-02</text>
<text x="418.1" y="292.32" font-size="6.3" text-anchor="middle" fill="#262626" stroke="#262626" stroke-width="0.1">PSG1</text>
<text x="459.15" y="292.32" font-size="6.3" text-anchor="middle" fill="#262626" stroke="#262626" stroke-width="0.1">15.28</text>
<text x="496.6" y="292.32" font-size="6.3" text-anchor="middle" fill="#262626" stroke="#262626" stroke-width="0.1">2.83E-02</text>
<text x="418.1" y="301.26" font-size="6.3" text-anchor="middle" fill="#262626" stroke="#262626" stroke-width="0.1">KIT</text>
<text x="459.15" y="301.26" font-size="6.3" text-anchor="middle" fill="#262626" stroke="#262626" stroke-width="0.1">8.19</text>
<text x="496.6" y="301.26" font-size="6.3" text-anchor="middle" fill="#262626" stroke="#262626" stroke-width="0.1">2.87E-02</text>
<text x="418.1" y="310.20" font-size="6.3" text-anchor="middle" fill="#262626" stroke="#262626" stroke-width="0.1">AOC3</text>
<text x="459.15" y="310.20" font-size="6.3" text-anchor="middle" fill="#262626" stroke="#262626" stroke-width="0.1">5.61</text>
<text x="496.6" y="310.20" font-size="6.3" text-anchor="middle" fill="#262626" stroke="#262626" stroke-width="0.1">2.89E-02</text>
<text x="418.1" y="319.14" font-size="6.3" text-anchor="middle" fill="#262626" stroke="#262626" stroke-width="0.1">CPB1</text>
<text x="459.15" y="319.14" font-size="6.3" text-anchor="middle" fill="#262626" stroke="#262626" stroke-width="0.1">9.45</text>
<text x="496.6" y="319.14" font-size="6.3" text-anchor="middle" fill="#262626" stroke="#262626" stroke-width="0.1">3.00E-02</text>
<text x="418.1" y="328.08" font-size="6.3" text-anchor="middle" fill="#262626" stroke="#262626" stroke-width="0.1">AXIN1</text>
<text x="459.15" y="328.08" font-size="6.3" text-anchor="middle" fill="#262626" stroke="#262626" stroke-width="0.1">2.29</text>
<text x="496.6" y="328.08" font-size="6.3" text-anchor="middle" fill="#262626" stroke="#262626" stroke-width="0.1">3.11E-02</text>
<text x="418.1" y="337.02" font-size="6.3" text-anchor="middle" fill="#262626" stroke="#262626" stroke-width="0.1">IL24</text>
<text x="459.15" y="337.02" font-size="6.3" text-anchor="middle" fill="#262626" stroke="#262626" stroke-width="0.1">20.10</text>
<text x="496.6" y="337.02" font-size="6.3" text-anchor="middle" fill="#262626" stroke="#262626" stroke-width="0.1">3.76E-02</text>
<text x="418.1" y="345.96" font-size="6.3" text-anchor="middle" fill="#262626" stroke="#262626" stroke-width="0.1">CXCL9</text>
<text x="459.15" y="345.96" font-size="6.3" text-anchor="middle" fill="#262626" stroke="#262626" stroke-width="0.1">4.86</text>
<text x="496.6" y="345.96" font-size="6.3" text-anchor="middle" fill="#262626" stroke="#262626" stroke-width="0.1">3.87E-02</text>
<text x="48.6" y="454.5" font-size="8.25" fill="#1a1a1a" stroke="#1a1a1a" stroke-width="0.12" textLength="110.6" lengthAdjust="spacingAndGlyphs">Baseline CitH3 Concentration</text>
<text x="48.6" y="461.9" font-size="6.1" fill="#3a3a3a" textLength="136.5" lengthAdjust="spacingAndGlyphs">Kruskal – Wallis X<tspan dy="-2" font-size="3.8">2</tspan><tspan dy="2"> (2) = 6.844, </tspan><tspan font-style="italic">P</tspan> = .033, <tspan font-style="italic">n</tspan> = 86</text>
<text x="37.1" y="472.1" font-size="6.5" text-anchor="end" fill="#2e2e2e" stroke="#2e2e2e" stroke-width="0.1">15</text>
<text x="37.1" y="508.6" font-size="6.5" text-anchor="end" fill="#2e2e2e" stroke="#2e2e2e" stroke-width="0.1">10</text>
<text x="37.1" y="545.0" font-size="6.5" text-anchor="end" fill="#2e2e2e" stroke="#2e2e2e" stroke-width="0.1">5</text>
<text x="37.1" y="581.5" font-size="6.5" text-anchor="end" fill="#2e2e2e" stroke="#2e2e2e" stroke-width="0.1">0</text>
<text x="81.2" y="596.4" font-size="6.3" text-anchor="middle" font-weight="normal" fill="#3a3a3a" textLength="23.3" lengthAdjust="spacingAndGlyphs">No CRS</text>
<text x="145.0" y="596.4" font-size="6.3" text-anchor="middle" font-weight="normal" fill="#3a3a3a" textLength="29.8" lengthAdjust="spacingAndGlyphs">Grade 1−2</text>
<text x="208.8" y="596.4" font-size="6.3" text-anchor="middle" font-weight="normal" fill="#3a3a3a" textLength="29.8" lengthAdjust="spacingAndGlyphs">Grade 3−4</text>
<text transform="translate(24.4,525.4) rotate(-90)" x="0" y="0" font-size="7.2" text-anchor="middle" fill="#2a2a2a" stroke="#2a2a2a" stroke-width="0.12" textLength="37.6" lengthAdjust="spacingAndGlyphs">CitH3 (ng/mL)</text>
<text x="145.0" y="607.6" font-size="8.8" text-anchor="middle" fill="#2a2a2a" stroke="#2a2a2a" stroke-width="0.3" textLength="32.6" lengthAdjust="spacingAndGlyphs">CRS severity</text>
<text x="132.7" y="618.8" font-size="6.4" fill="#222" textLength="114.30000000000001" lengthAdjust="spacingAndGlyphs">pwc: <tspan font-weight="bold">Wilcoxon test</tspan> ; p.adjust: <tspan font-weight="bold">Bonferroni</tspan></text>
<text x="62.5" y="628.8" font-size="6.9" text-anchor="start" font-weight="normal" fill="#333" textLength="33.20000000000001" lengthAdjust="spacingAndGlyphs">CRS Grade</text>
<text x="111.3" y="628.8" font-size="6.9" text-anchor="start" font-weight="normal" fill="#333" textLength="23.699999999999996" lengthAdjust="spacingAndGlyphs">No CRS</text>
<text x="151.0" y="628.8" font-size="6.9" text-anchor="start" font-weight="normal" fill="#333" textLength="30.49999999999998" lengthAdjust="spacingAndGlyphs">Grade 1−2</text>
<text x="196.7" y="628.8" font-size="6.9" text-anchor="start" font-weight="normal" fill="#333" textLength="30.6" lengthAdjust="spacingAndGlyphs">Grade 3−4</text>
<text x="314.9" y="454.5" font-size="8.25" fill="#1a1a1a" stroke="#1a1a1a" stroke-width="0.12" textLength="132.6" lengthAdjust="spacingAndGlyphs">Baseline Calprotectin Concentration</text>
<text x="314.9" y="461.9" font-size="6.1" fill="#3a3a3a" textLength="134.5" lengthAdjust="spacingAndGlyphs">Kruskal – Wallis X<tspan dy="-2" font-size="3.8">2</tspan><tspan dy="2"> (2) = 6.757, </tspan><tspan font-style="italic">P</tspan> = .034, <tspan font-style="italic">n</tspan> = 86</text>
<text x="303.5" y="472.3" font-size="6.5" text-anchor="end" fill="#2e2e2e" stroke="#2e2e2e" stroke-width="0.1">20000</text>
<text x="303.5" y="499.6" font-size="6.5" text-anchor="end" fill="#2e2e2e" stroke="#2e2e2e" stroke-width="0.1">15000</text>
<text x="303.5" y="526.9" font-size="6.5" text-anchor="end" fill="#2e2e2e" stroke="#2e2e2e" stroke-width="0.1">10000</text>
<text x="303.5" y="554.1999999999999" font-size="6.5" text-anchor="end" fill="#2e2e2e" stroke="#2e2e2e" stroke-width="0.1">5000</text>
<text x="303.5" y="581.4" font-size="6.5" text-anchor="end" fill="#2e2e2e" stroke="#2e2e2e" stroke-width="0.1">0</text>
<text x="347.4" y="596.4" font-size="6.3" text-anchor="middle" font-weight="normal" fill="#3a3a3a" textLength="23.3" lengthAdjust="spacingAndGlyphs">No CRS</text>
<text x="411.3" y="596.4" font-size="6.3" text-anchor="middle" font-weight="normal" fill="#3a3a3a" textLength="29.8" lengthAdjust="spacingAndGlyphs">Grade 1−2</text>
<text x="475.1" y="596.4" font-size="6.3" text-anchor="middle" font-weight="normal" fill="#3a3a3a" textLength="29.8" lengthAdjust="spacingAndGlyphs">Grade 3−4</text>
<text transform="translate(279.6,525.4) rotate(-90)" x="0" y="0" font-size="7.2" text-anchor="middle" fill="#2a2a2a" stroke="#2a2a2a" stroke-width="0.12" textLength="53.5" lengthAdjust="spacingAndGlyphs">Calprotectin (ng/mL)</text>
<text x="411.3" y="607.6" font-size="8.8" text-anchor="middle" fill="#2a2a2a" stroke="#2a2a2a" stroke-width="0.3" textLength="32.6" lengthAdjust="spacingAndGlyphs">CRS severity</text>
<text x="399.2" y="618.8" font-size="6.4" fill="#222" textLength="113.90000000000003" lengthAdjust="spacingAndGlyphs">pwc: <tspan font-weight="bold">Wilcoxon test</tspan> ; p.adjust: <tspan font-weight="bold">Bonferroni</tspan></text>
<text x="328.5" y="628.8" font-size="6.9" text-anchor="start" font-weight="normal" fill="#333" textLength="34.1" lengthAdjust="spacingAndGlyphs">CRS Grade</text>
<text x="377.5" y="628.8" font-size="6.9" text-anchor="start" font-weight="normal" fill="#333" textLength="23.79999999999999" lengthAdjust="spacingAndGlyphs">No CRS</text>
<text x="417.0" y="628.8" font-size="6.9" text-anchor="start" font-weight="normal" fill="#333" textLength="30.6" lengthAdjust="spacingAndGlyphs">Grade 1−2</text>
<text x="462.5" y="628.8" font-size="6.9" text-anchor="start" font-weight="normal" fill="#333" textLength="30.79999999999999" lengthAdjust="spacingAndGlyphs">Grade 3−4</text></svg></div>
</body></html>
